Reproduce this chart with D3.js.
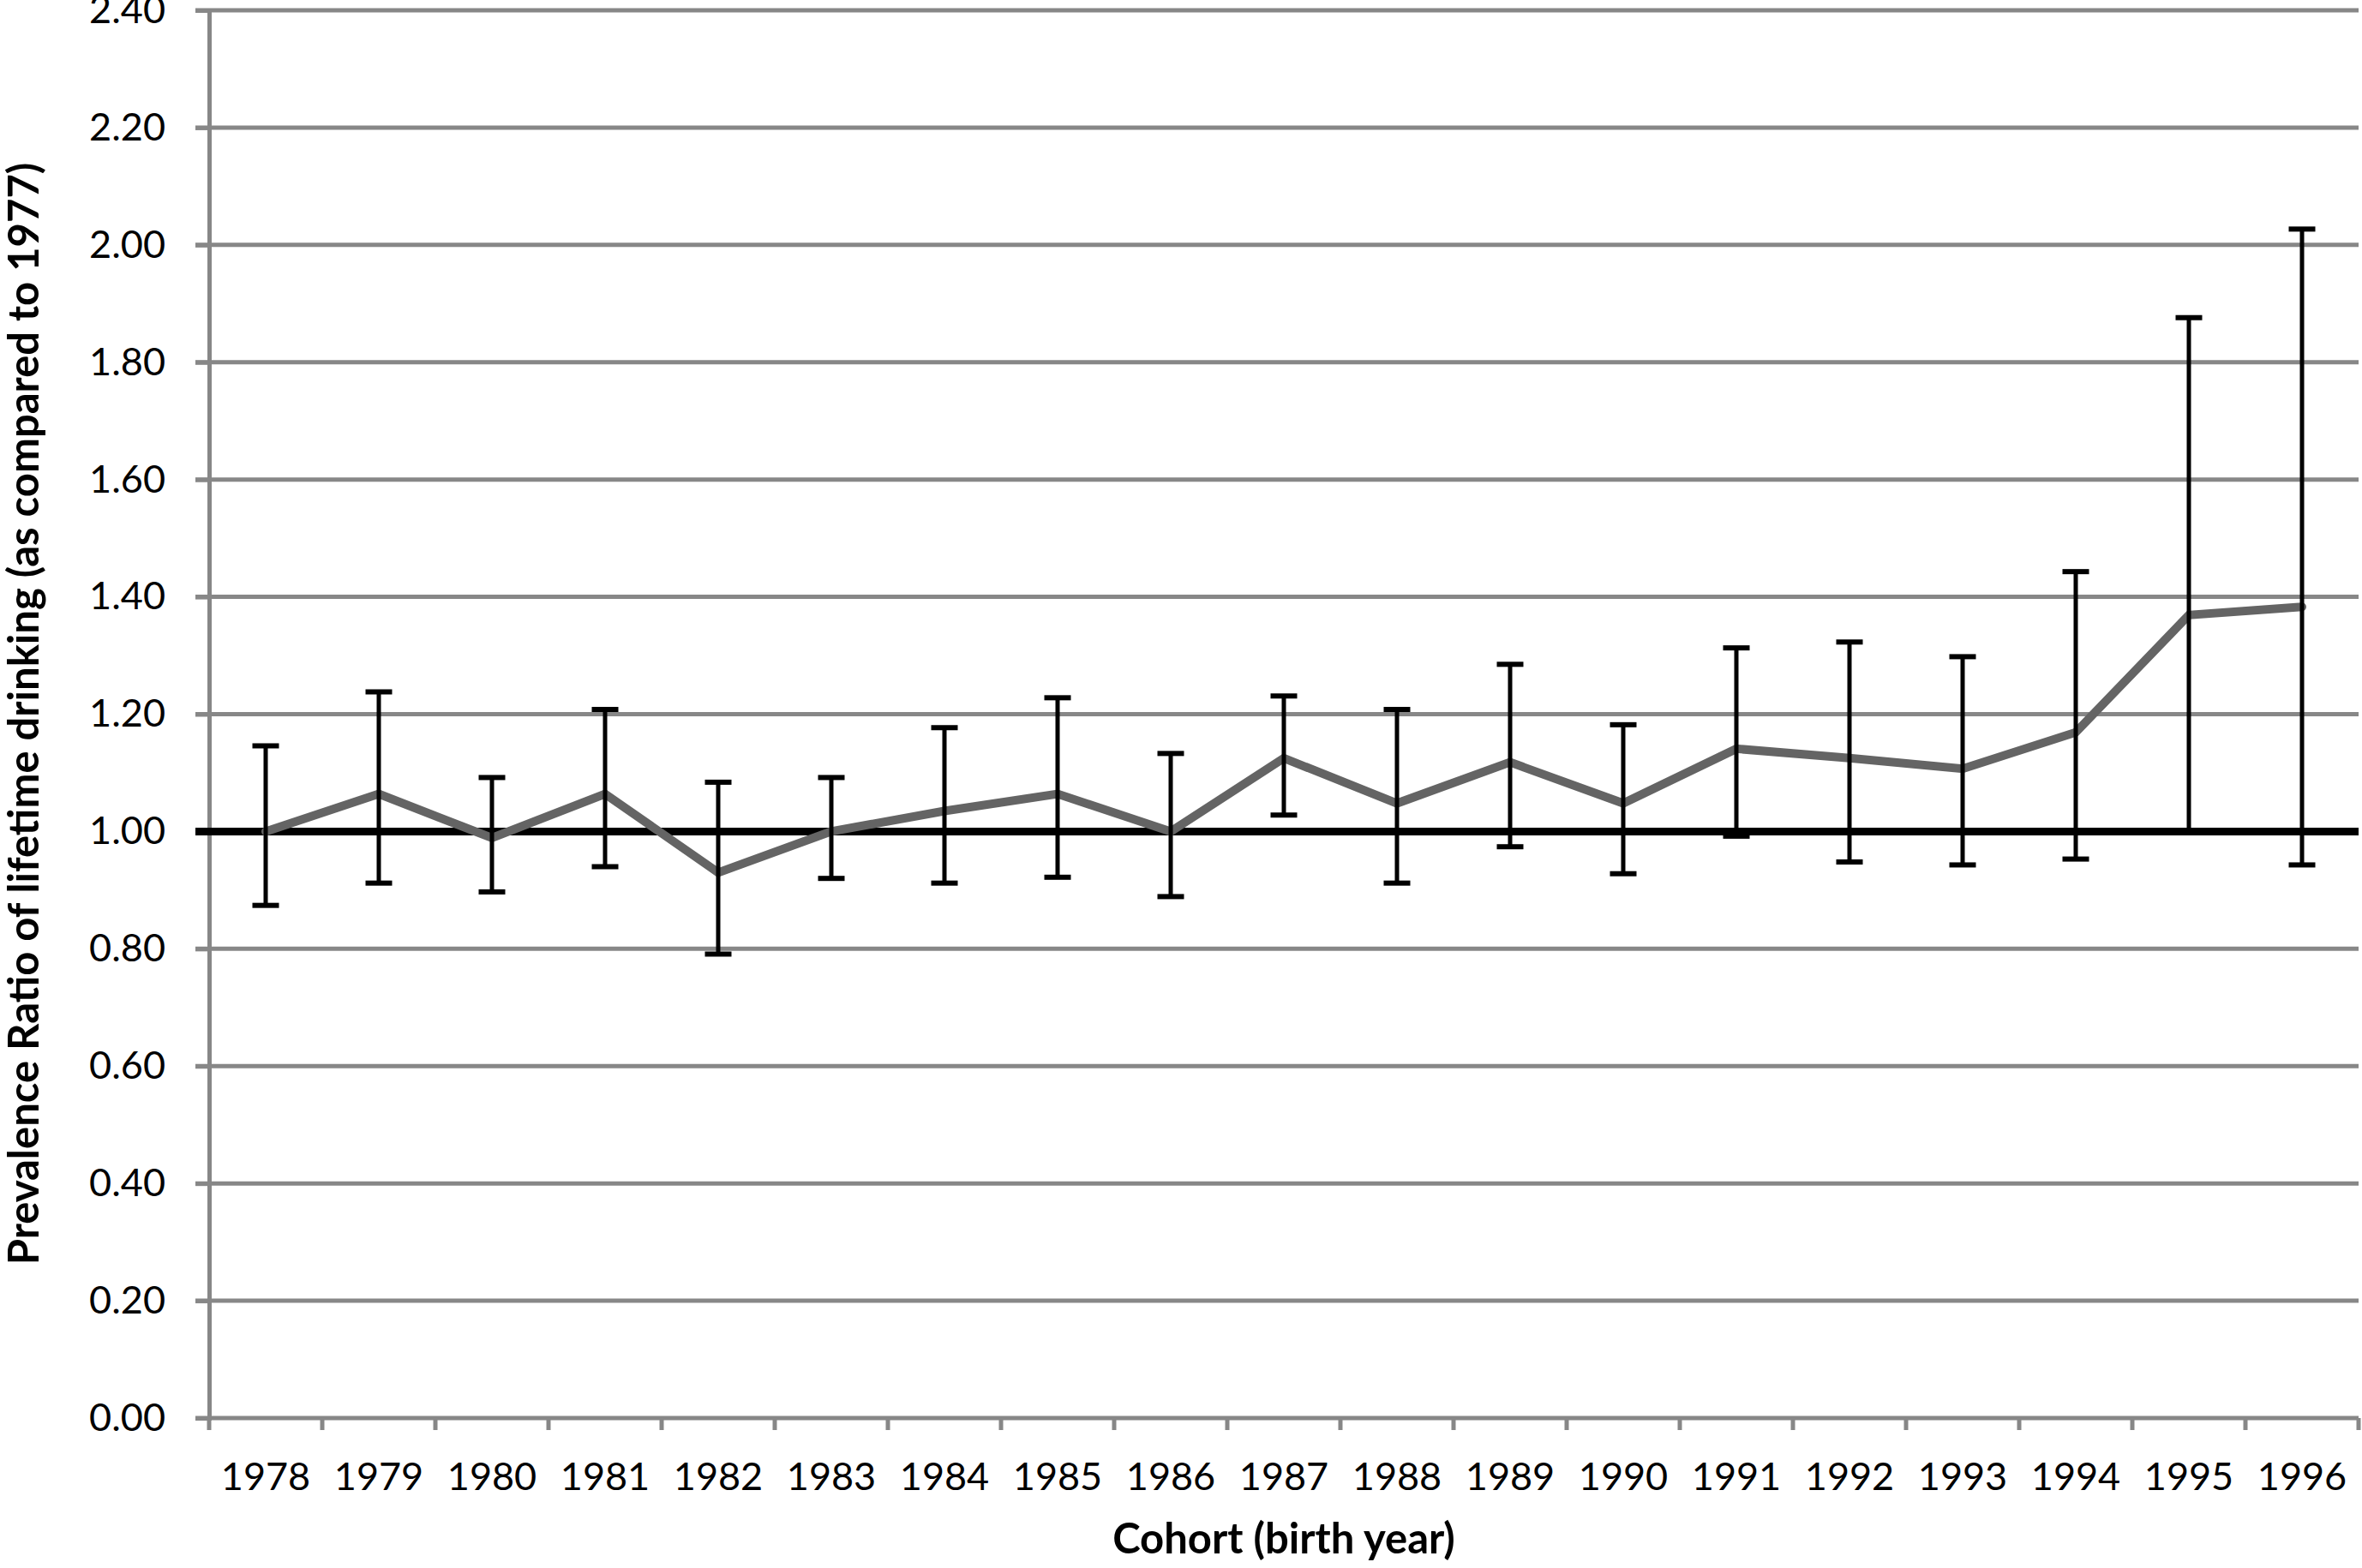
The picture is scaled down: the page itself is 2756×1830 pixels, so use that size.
<!DOCTYPE html>
<html>
<head>
<meta charset="utf-8">
<script src="https://cdn.jsdelivr.net/npm/d3@7"></script>
<style>
  html, body { margin: 0; padding: 0; background: #fff; }
  svg { display: block; }
  text { font-family: Lato, "Open Sans", sans-serif; fill: #000; }
</style>
</head>
<body>
<script>
// ---- data ----
const cohorts = ["1978","1979","1980","1981","1982","1983","1984","1985","1986","1987","1988","1989","1990","1991","1992","1993","1994","1995","1996"];
const ratio   = [1.00, 1.064, 0.989, 1.064, 0.930, 1.00, 1.035, 1.064, 1.00, 1.125, 1.048, 1.118, 1.048, 1.141, 1.125, 1.107, 1.169, 1.369, 1.383];
const upperCI = [1.146, 1.238, 1.092, 1.208, 1.084, 1.092, 1.177, 1.228, 1.133, 1.231, 1.208, 1.285, 1.182, 1.313, 1.323, 1.298, 1.443, 1.876, 2.027];
const lowerCI = [0.874, 0.912, 0.897, 0.940, 0.791, 0.920, 0.912, 0.922, 0.889, 1.028, 0.912, 0.974, 0.928, 0.992, 0.948, 0.943, 0.953, 1.00, 0.943];
const yTicks  = [0, 0.2, 0.4, 0.6, 0.8, 1.0, 1.2, 1.4, 1.6, 1.8, 2.0, 2.2, 2.4];
const referenceValue = 1.0;
const xTitle = "Cohort (birth year)";
const yTitle = "Prevalence Ratio of lifetime drinking (as compared to 1977)";

(function () {
// ---- layout ----
const W = 2756, H = 1830;
const pLeft = 244, pRight = 2752, pTop = 12, pBottom = 1655;

const svg = d3.select("body").append("svg").attr("width", W).attr("height", H);

const x = d3.scaleBand().domain(cohorts).range([pLeft, pRight]).padding(0);
const y = d3.scaleLinear().domain([0, 2.4]).range([pBottom, pTop]);

const gridColor = "#878787";

// gridlines
svg.append("g").selectAll("line").data(yTicks).join("line")
  .attr("x1", pLeft - 16).attr("x2", pRight)
  .attr("y1", d => y(d)).attr("y2", d => y(d))
  .attr("stroke", gridColor).attr("stroke-width", 5);

// y axis (labels)
const yAxis = svg.append("g").attr("transform", `translate(${pLeft},0)`)
  .call(d3.axisLeft(y).tickValues(yTicks).tickFormat(d3.format(".2f")).tickSize(16).tickPadding(35));
yAxis.select(".domain").attr("stroke", gridColor).attr("stroke-width", 5);
yAxis.selectAll(".tick line").attr("stroke", gridColor).attr("stroke-width", 5);
yAxis.selectAll(".tick text").attr("font-size", 45).attr("font-family", "Lato").attr("fill", "#000");

// x axis boundary ticks
const bounds = cohorts.map(c => x(c)).concat([x(cohorts[cohorts.length - 1]) + x.bandwidth()]);
svg.append("g").selectAll("line").data(bounds).join("line")
  .attr("x1", d => d).attr("x2", d => d)
  .attr("y1", pBottom).attr("y2", pBottom + 14)
  .attr("stroke", gridColor).attr("stroke-width", 5);

// x axis labels
const xAxis = svg.append("g").attr("transform", `translate(0,${pBottom})`)
  .call(d3.axisBottom(x).tickSize(0).tickPadding(52));
xAxis.select(".domain").remove();
xAxis.selectAll(".tick text").attr("font-size", 45).attr("font-family", "Lato").attr("fill", "#000");

// reference line at 1.00
svg.append("line")
  .attr("x1", pLeft - 16).attr("x2", pRight)
  .attr("y1", y(referenceValue)).attr("y2", y(referenceValue))
  .attr("stroke", "#000").attr("stroke-width", 9);

// data line
const cx = d => x(d) + x.bandwidth() / 2;
const line = d3.line().x((d, i) => cx(cohorts[i])).y(d => y(d));
svg.append("path").datum(ratio)
  .attr("d", line)
  .attr("fill", "none")
  .attr("stroke", "#646464")
  .attr("stroke-width", 10)
  .attr("stroke-linejoin", "miter")
  .attr("stroke-linecap", "round");

// error bars
const eb = svg.append("g").attr("stroke", "#000");
const capW = 31;
cohorts.forEach((c, i) => {
  eb.append("line").attr("x1", cx(c)).attr("x2", cx(c))
    .attr("y1", y(lowerCI[i])).attr("y2", y(upperCI[i])).attr("stroke-width", 5);
  eb.append("line").attr("x1", cx(c) - capW / 2).attr("x2", cx(c) + capW / 2)
    .attr("y1", y(upperCI[i])).attr("y2", y(upperCI[i])).attr("stroke-width", 6);
  eb.append("line").attr("x1", cx(c) - capW / 2).attr("x2", cx(c) + capW / 2)
    .attr("y1", y(lowerCI[i])).attr("y2", y(lowerCI[i])).attr("stroke-width", 6);
});

// axis titles
svg.append("text")
  .attr("x", 1498).attr("y", 1813)
  .attr("text-anchor", "middle")
  .attr("font-size", 49).attr("font-weight", "bold")
  .text(xTitle);

svg.append("text")
  .attr("transform", "translate(45,833) rotate(-90)")
  .attr("text-anchor", "middle")
  .attr("font-size", 49).attr("font-weight", "bold")
  .text(yTitle);
})();
</script>
</body>
</html>
